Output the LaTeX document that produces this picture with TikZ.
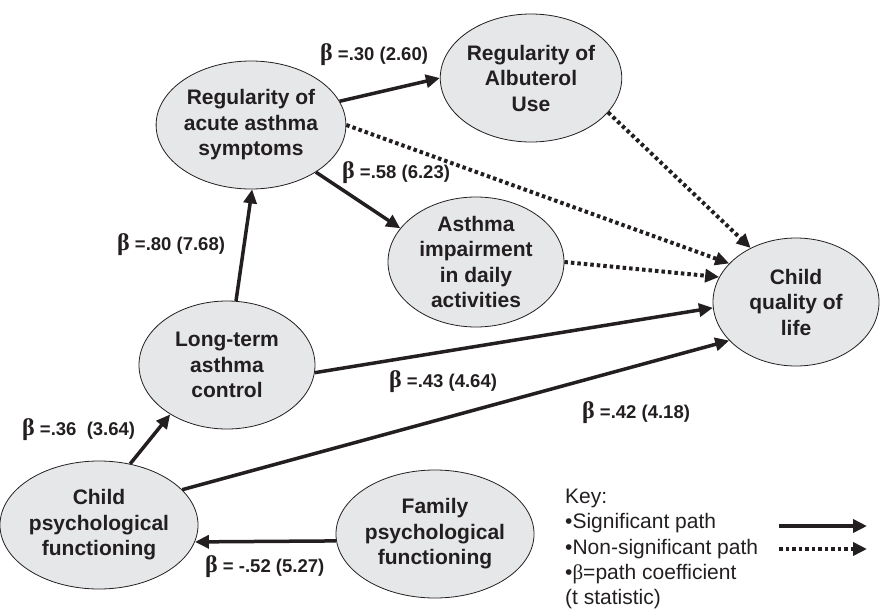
\documentclass[tikz,border=0pt]{standalone}
\usepackage{fontspec}
\setmainfont{Liberation Sans}
\newfontfamily\grkfont{Liberation Serif}
\usetikzlibrary{arrows.meta,shapes.geometric}
\definecolor{bubblegray}{HTML}{E6E7E9}
\definecolor{inkblack}{HTML}{231F20}
\newcommand{\bet}{{\grkfont\fontsize{24}{24}\selectfont β}}

\begin{document}
\begin{tikzpicture}[x=1pt,y=-1pt,
    var/.style={ellipse,draw=inkblack,line width=0.8pt,fill=bubblegray,minimum width=176pt,minimum height=128pt,inner sep=0pt,align=center,text=inkblack,font=\bfseries\fontsize{21}{25.5}\selectfont},
    sig/.style={line width=3.5pt,draw=inkblack,-{Triangle[length=14pt,width=13pt]}},
    nonsig/.style={line width=4pt,draw=inkblack,dash pattern=on 3.5pt off 3pt,-{Triangle[length=14pt,width=13pt]}},
    coef/.style={anchor=base west,inner sep=0pt,text=inkblack,font=\bfseries\fontsize{18.5}{20}\selectfont}]
    \useasboundingbox (0,0) rectangle (881,608);
    \node[var] (ras) at (251,125) {Regularity of\\acute asthma\\symptoms};
    \node[var] (alb) at (531,78) {Regularity of\\Albuterol\\Use};
    \node[var] (imp) at (476,262) {Asthma\\impairment\\in daily\\activities};
    \node[var,minimum width=166pt] (cql) at (796,302) {Child\\quality of\\life};
    \node[var] (ltc) at (227,365) {Long-term\\asthma\\control};
    \node[var] (cpf) at (99,525) {Child\\psychological\\functioning};
    \node[var] (fpf) at (435,534) {Family\\psychological\\functioning};

    \draw[sig] (ras.15) -- (alb.180);
    \draw[nonsig] (ras.0) -- (cql.150);
    \draw[sig] (ras.-36) -- (imp.156);
    \draw[nonsig] (alb.-24) -- (cql.130);
    \draw[nonsig] (imp.0) -- (cql.162);
    \draw[sig] (ltc.82) -- (ras.-89);
    \draw[sig] (ltc.-5) -- (cql.-176);
    \draw[sig] (cpf.63) -- (ltc.-139);
    \draw[sig] (cpf.23) -- (cql.-150);
    \draw[sig] (fpf.184) -- (cpf.-10);

    \node[coef] (b30) at (320,60) {\bet\ =.30 (2.60)};
    \node[coef] (b58) at (342,178) {\bet\ =.58 (6.23)};
    \node[coef] (b80) at (117,250) {\bet\ =.80 (7.68)};
    \node[coef] (b43) at (389,387) {\bet\ =.43 (4.64)};
    \node[coef] (b42) at (582,418) {\bet\ =.42 (4.18)};
    \node[coef] (b36) at (22,435) {\bet\ =.36~~(3.64)};
    \node[coef] (b52) at (205,572) {\bet\ = -.52 (5.27)};

    \node[anchor=north west,inner sep=0pt,align=left,text=inkblack,font=\fontsize{21}{25.3}\selectfont] (key) at (565,489) {Key:\\•Significant path\\•Non-significant path\\•{\grkfont β}=path coefficient\\(t statistic)};
    \coordinate (sigA) at (779,526);
    \coordinate (sigB) at (867,526);
    \coordinate (nsA) at (779,549);
    \coordinate (nsB) at (867,549);
    \draw[sig] (sigA) -- (sigB);
    \draw[nonsig] (nsA) -- (nsB);
\end{tikzpicture}
\end{document}
